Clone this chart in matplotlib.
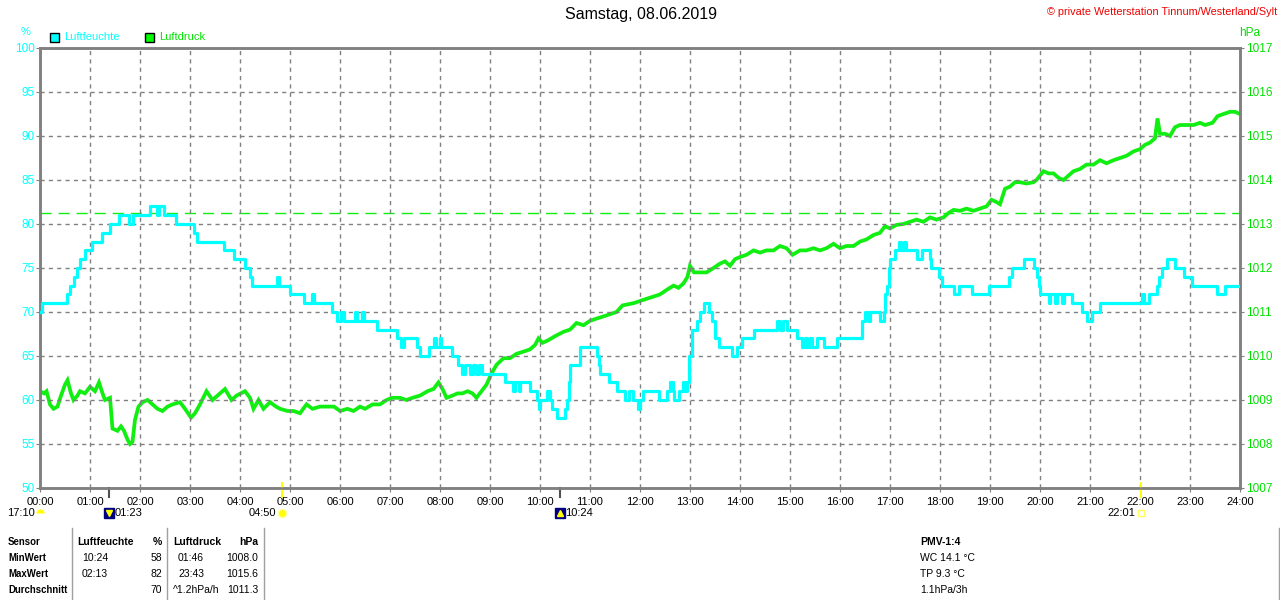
import matplotlib
matplotlib.use("Agg")
import matplotlib.pyplot as plt
from matplotlib.lines import Line2D
from matplotlib.patches import Rectangle

plt.rcParams['font.family'] = ['Liberation Sans', 'DejaVu Sans']

# ---- values ----
hours = list(range(25))
hour_labels = [f"{h:02d}:00" for h in hours]

# humidity in %, step changes (hour of day, value)
hum_t = [0.0, 0.03, 0.53, 0.6, 0.67, 0.73, 0.8, 0.9, 1.03, 1.23, 1.4, 1.57, 1.78, 1.85,
         2.2, 2.33, 2.38, 2.47, 2.72, 3.08, 3.13, 3.67, 3.87, 4.1, 4.2, 4.23, 4.73, 4.77,
         5.0, 5.27, 5.43, 5.47, 5.83, 5.93, 6.02, 6.08, 6.3, 6.33, 6.43, 6.47, 6.73,
         7.13, 7.22, 7.27, 7.53, 7.6, 7.77, 7.88, 7.92, 8.0, 8.03, 8.23, 8.37, 8.45, 8.5,
         8.6, 8.65, 8.72, 8.78, 8.83, 9.3, 9.45, 9.5, 9.57, 9.6, 9.8, 9.93, 9.97, 10.0,
         10.13, 10.2, 10.23, 10.33, 10.5, 10.53, 10.57, 10.6, 10.8, 11.13, 11.17, 11.2,
         11.37, 11.53, 11.7, 11.77, 11.85, 11.95, 12.0, 12.05, 12.37, 12.53, 12.6, 12.65,
         12.67, 12.77, 12.85, 12.9, 12.93, 12.97, 13.03, 13.13, 13.2, 13.27, 13.37, 13.43,
         13.5, 13.57, 13.83, 13.93, 14.03, 14.27, 14.73, 14.8, 14.85, 14.93, 15.13, 15.23,
         15.3, 15.33, 15.4, 15.43, 15.53, 15.67, 15.93, 16.43, 16.5, 16.55, 16.6, 16.8,
         16.87, 16.9, 16.93, 16.97, 17.0, 17.1, 17.17, 17.22, 17.27, 17.33, 17.53, 17.63,
         17.8, 17.83, 17.97, 18.03, 18.27, 18.37, 18.63, 18.97, 19.37, 19.43, 19.67, 19.87,
         19.93, 19.97, 20.0, 20.17, 20.2, 20.3, 20.33, 20.43, 20.47, 20.63, 20.83, 20.93,
         21.03, 21.2, 22.03, 22.07, 22.17, 22.33, 22.38, 22.43, 22.53, 22.7, 22.87, 23.03,
         23.53, 23.7, 24.0]
hum_v = [70, 71, 72, 73, 74, 75, 76, 77, 78, 79, 80, 81, 80, 81,
         82, 81, 82, 81, 80, 79, 78, 77, 76, 75, 74, 73, 74, 73,
         72, 71, 72, 71, 70, 69, 70, 69, 70, 69, 70, 69, 68,
         67, 66, 67, 66, 65, 66, 67, 66, 67, 66, 65, 64, 63, 64,
         63, 64, 63, 64, 63, 62, 61, 62, 61, 62, 61, 60, 59, 60,
         61, 60, 59, 58, 59, 60, 62, 64, 66, 65, 64, 63,
         62, 61, 60, 61, 60, 59, 60, 61, 60, 61, 62, 61,
         60, 61, 62, 61, 62, 65, 68, 69, 70, 71, 70, 69,
         67, 66, 65, 66, 67, 68, 69, 68, 69, 68, 67, 66,
         67, 66, 67, 66, 67, 66, 67, 69, 70, 69, 70, 69,
         70, 72, 73, 75, 76, 77, 78, 77, 78, 77, 76, 77,
         76, 75, 74, 73, 72, 73, 72, 73, 74, 75, 76, 75,
         74, 73, 72, 71, 72, 71, 72, 71, 72, 71, 70, 69,
         70, 71, 72, 71, 72, 73, 74, 75, 76, 75, 74, 73,
         72, 73, 73]

# air pressure in hPa (hour of day, value)
pres_t = [0.0, 0.08, 0.13, 0.2, 0.27, 0.35, 0.42, 0.5, 0.55, 0.62, 0.67, 0.75, 0.8, 0.9,
          1.0, 1.1, 1.18, 1.25, 1.3, 1.4, 1.45, 1.55, 1.62, 1.68, 1.75, 1.8, 1.85, 1.9,
          1.97, 2.05, 2.15, 2.25, 2.35, 2.45, 2.55, 2.65, 2.8, 2.9, 3.02, 3.1, 3.2, 3.33,
          3.45, 3.55, 3.7, 3.83, 3.93, 4.1, 4.2, 4.27, 4.37, 4.47, 4.6, 4.72, 4.8, 4.95,
          5.07, 5.2, 5.33, 5.45, 5.6, 5.75, 5.88, 6.0, 6.15, 6.27, 6.4, 6.5, 6.65, 6.8,
          6.93, 7.05, 7.2, 7.33, 7.45, 7.6, 7.75, 7.87, 7.97, 8.05, 8.13, 8.25, 8.35, 8.45,
          8.55, 8.65, 8.73, 8.83, 8.93, 9.03, 9.13, 9.27, 9.4, 9.53, 9.67, 9.8, 9.9, 9.97,
          10.05, 10.15, 10.3, 10.47, 10.6, 10.73, 10.87, 11.0, 11.13, 11.27, 11.4, 11.53,
          11.65, 11.87, 12.0, 12.13, 12.27, 12.4, 12.53, 12.67, 12.77, 12.87, 12.95, 13.0,
          13.08, 13.2, 13.33, 13.47, 13.6, 13.7, 13.8, 13.9, 14.0, 14.13, 14.27, 14.4,
          14.53, 14.67, 14.8, 14.93, 15.05, 15.2, 15.33, 15.47, 15.6, 15.73, 15.87, 16.0,
          16.13, 16.27, 16.4, 16.53, 16.67, 16.8, 16.9, 17.0, 17.13, 17.27, 17.4, 17.53,
          17.67, 17.8, 17.93, 18.07, 18.17, 18.27, 18.4, 18.53, 18.67, 18.8, 18.93, 19.03,
          19.13, 19.2, 19.3, 19.4, 19.5, 19.6, 19.73, 19.87, 19.93, 20.07, 20.17, 20.27,
          20.37, 20.47, 20.57, 20.67, 20.8, 20.93, 21.07, 21.2, 21.33, 21.47, 21.6, 21.73,
          21.87, 22.0, 22.1, 22.2, 22.3, 22.35, 22.4, 22.5, 22.6, 22.7, 22.8, 22.93, 23.07,
          23.2, 23.3, 23.45, 23.55, 23.67, 23.8, 23.9, 24.0]
pres_v = [1009.2, 1009.15, 1009.2, 1008.9, 1008.8, 1008.85, 1009.1, 1009.35, 1009.45,
          1009.15, 1009.0, 1009.1, 1009.2, 1009.15, 1009.3, 1009.2, 1009.4, 1009.15, 1009.0,
          1009.05, 1008.35, 1008.3, 1008.4, 1008.3, 1008.1, 1008.0, 1008.05, 1008.55,
          1008.85, 1008.95, 1009.0, 1008.9, 1008.8, 1008.75, 1008.85, 1008.9, 1008.95,
          1008.8, 1008.6, 1008.7, 1008.9, 1009.2, 1009.0, 1009.1, 1009.25, 1009.0, 1009.1,
          1009.2, 1009.05, 1008.8, 1009.0, 1008.8, 1008.95, 1008.85, 1008.8, 1008.75,
          1008.75, 1008.7, 1008.9, 1008.8, 1008.85, 1008.85, 1008.85, 1008.75, 1008.8,
          1008.75, 1008.85, 1008.8, 1008.9, 1008.9, 1009.0, 1009.05, 1009.05, 1009.0,
          1009.05, 1009.1, 1009.2, 1009.25, 1009.4, 1009.25, 1009.05, 1009.1, 1009.15,
          1009.15, 1009.2, 1009.15, 1009.05, 1009.2, 1009.35, 1009.6, 1009.8, 1009.95,
          1009.95, 1010.05, 1010.1, 1010.15, 1010.25, 1010.4, 1010.3, 1010.35, 1010.45,
          1010.55, 1010.6, 1010.75, 1010.7, 1010.8, 1010.85, 1010.9, 1010.95, 1011.0,
          1011.15, 1011.2, 1011.25, 1011.3, 1011.35, 1011.4, 1011.5, 1011.6, 1011.55,
          1011.65, 1011.8, 1012.05, 1011.9, 1011.9, 1011.9, 1012.0, 1012.1, 1012.15,
          1012.05, 1012.2, 1012.25, 1012.3, 1012.4, 1012.35, 1012.4, 1012.4, 1012.5,
          1012.45, 1012.3, 1012.4, 1012.4, 1012.45, 1012.4, 1012.45, 1012.55, 1012.45,
          1012.5, 1012.5, 1012.6, 1012.65, 1012.75, 1012.8, 1012.95, 1012.9, 1012.98,
          1013.0, 1013.05, 1013.1, 1013.05, 1013.15, 1013.1, 1013.15, 1013.25, 1013.32,
          1013.3, 1013.35, 1013.3, 1013.35, 1013.4, 1013.55, 1013.5, 1013.45, 1013.8,
          1013.85, 1013.95, 1013.95, 1013.92, 1013.95, 1014.0, 1014.2, 1014.15, 1014.15,
          1014.05, 1014.0, 1014.1, 1014.2, 1014.25, 1014.35, 1014.35, 1014.45, 1014.38,
          1014.45, 1014.5, 1014.55, 1014.65, 1014.7, 1014.8, 1014.85, 1014.95, 1015.4,
          1015.05, 1015.05, 1015.0, 1015.2, 1015.25, 1015.25, 1015.25, 1015.3, 1015.25,
          1015.3, 1015.45, 1015.5, 1015.55, 1015.55, 1015.5]

hum_ticks = list(range(50, 101, 5))
pres_ticks = list(range(1007, 1018))
ref_pressure = 1013.25

# moon / sun events
moon_times = [1 + 23 / 60, 10 + 24 / 60]
moon_labels = ["01:23", "10:24"]
moon_arrows = ["v", "^"]
sun_times = [4 + 50 / 60, 22 + 1 / 60]
sun_labels = ["04:50", "22:01"]
first_label = "17:10"

# statistics table
row_names = ["MinWert", "MaxWert", "Durchschnitt"]
hum_time = ["10:24", "02:13", ""]
hum_vals = ["58", "82", "70"]
pres_time = ["01:46", "23:43", "^1.2hPa/h"]
pres_vals = ["1008.0", "1015.6", "1011.3"]
extra_lines = ["WC 14.1 °C", "TP 9.3 °C", "1.1hPa/3h"]

CYAN = '#00FFFF'
GREEN = '#11EE11'
GREEN_TXT = '#00E000'
GRAY = '#808080'

W, H = 1280, 600
L, R, T, B = 40, 1240, 48, 488


def fx(x):
    return x / W


def fy(y):
    return 1 - y / H


def ay(y):
    # pixel row -> axes fraction
    return (B - y) / (B - T)


fig = plt.figure(figsize=(12.8, 6), dpi=100)
ax = fig.add_axes([fx(L), fy(B), (R - L) / W, (B - T) / H])
ax2 = ax.twinx()

ax.set_xlim(0, 24)
ax.set_ylim(50, 100)
ax2.set_ylim(1007, 1017)

ax.set_xticks(hours)
ax.set_xticklabels(hour_labels)
ax.set_yticks(hum_ticks)
ax2.set_yticks(pres_ticks)

ax.grid(True, color=GRAY, linestyle=(0, (3, 3)), linewidth=1)

for a in (ax, ax2):
    for s in a.spines.values():
        s.set_color(GRAY)
        s.set_linewidth(1.8)

ax.tick_params(axis='x', color=GRAY, labelcolor='black', length=3, pad=3.5, labelsize=8)
ax.tick_params(axis='y', color=GRAY, labelcolor=CYAN, length=3, pad=1, labelsize=8.5)
ax2.tick_params(axis='y', color=GRAY, labelcolor=GREEN_TXT, length=3, pad=1, labelsize=8.5)

ax2.axhline(ref_pressure, color=GREEN, linewidth=1, linestyle=(0, (8, 5)))
ax2.plot(pres_t, pres_v, color=GREEN, linewidth=2.7, solid_joinstyle='miter')
ax.plot(hum_t, hum_v, color=CYAN, linewidth=2.3, drawstyle='steps-post', zorder=5)
ax.set_zorder(ax2.get_zorder() + 1)
ax.patch.set_visible(False)

# event markers below the time axis
trans = ax.get_xaxis_transform()
ev_y = ay(513)
for t, lab, arr in zip(moon_times, moon_labels, moon_arrows):
    ax.plot([t, t], [0, ay(497)], transform=trans, clip_on=False, color='#505050', lw=1.5)
    ax.plot([t], [ev_y], transform=trans, clip_on=False, marker='s', ms=7,
            color='#000080', mec='#000080')
    ax.plot([t], [ev_y], transform=trans, clip_on=False, marker=arr, ms=4,
            color='#FFFF00', mec='#FFFF00')
    ax.annotate(lab, (t, ev_y), xycoords=trans, xytext=(4, 0), textcoords='offset points',
                ha='left', va='center', fontsize=8, annotation_clip=False)
for i, (t, lab) in enumerate(zip(sun_times, sun_labels)):
    ax.plot([t, t], [ay(483), ay(497)], transform=trans, clip_on=False, color='#FFFF00', lw=1.5)
    if i == 0:
        ax.plot([t], [ev_y], transform=trans, clip_on=False, marker='o', ms=6,
                color='#FFFF00', mec='#FFFFAA')
    else:
        ax.plot([t], [ev_y], transform=trans, clip_on=False, marker='s', ms=5,
                mfc='none', mec='#FFFF60', mew=1)
    ax.annotate(lab, (t, ev_y), xycoords=trans, xytext=(-4, 0), textcoords='offset points',
                ha='right', va='center', fontsize=8, annotation_clip=False)
ax.plot([0], [ev_y], transform=trans, clip_on=False, marker='o', ms=6,
        fillstyle='top', color='#FFFF00', mec='none', markerfacecoloralt='none')
ax.annotate(first_label, (0, ev_y), xycoords=trans, xytext=(-4, 0), textcoords='offset points',
            ha='right', va='center', fontsize=8, annotation_clip=False)

# header texts
fig.text(fx(641), fy(15), "Samstag, 08.06.2019", ha='center', va='center', fontsize=11.5)
fig.text(fx(1277), fy(12), "© private Wetterstation Tinnum/Westerland/Sylt", ha='right',
         va='center', fontsize=7.8, color='#EE0000')
fig.text(fx(26), fy(32), "%", ha='center', va='center', fontsize=8, color=CYAN)
fig.text(fx(1250), fy(33), "hPa", ha='center', va='center', fontsize=8.5, color=GREEN_TXT)
for x0, col, txtcol, name in [(50, CYAN, CYAN, "Luftfeuchte"), (145, '#00FF00', GREEN_TXT, "Luftdruck")]:
    fig.add_artist(Rectangle((fx(x0), fy(42)), 9 / W, 9 / H, transform=fig.transFigure,
                             facecolor=col, edgecolor='black', lw=1))
    fig.text(fx(x0 + 14), fy(37.5), name, ha='left', va='center', fontsize=8, color=txtcol)

# statistics table
fs = 7.5
fig.text(fx(8), fy(542), "Sensor", fontsize=6.9, weight='bold', va='center')
fig.text(fx(77), fy(542), "Luftfeuchte", fontsize=fs, weight='bold', va='center')
fig.text(fx(162), fy(542), "%", fontsize=fs, weight='bold', va='center', ha='right')
fig.text(fx(173), fy(542), "Luftdruck", fontsize=fs, weight='bold', va='center')
fig.text(fx(258), fy(542), "hPa", fontsize=fs, weight='bold', va='center', ha='right')
for i, yy in enumerate([558, 574, 590]):
    fig.text(fx(8), fy(yy), row_names[i], fontsize=6.9, weight='bold', va='center')
    fig.text(fx(82), fy(yy), hum_time[i], fontsize=fs, va='center')
    fig.text(fx(162), fy(yy), hum_vals[i], fontsize=fs, va='center', ha='right')
    px = 173 if pres_time[i].startswith('^') else 178
    fig.text(fx(px), fy(yy), pres_time[i], fontsize=fs, va='center')
    fig.text(fx(258), fy(yy), pres_vals[i], fontsize=fs, va='center', ha='right')
    fig.text(fx(920), fy(yy), extra_lines[i], fontsize=fs, va='center')
fig.text(fx(920), fy(542), "PMV-1:4", fontsize=fs, weight='bold', va='center')

for xs in (72, 167, 264, 1279):
    fig.add_artist(Line2D([fx(xs), fx(xs)], [fy(528), fy(600)], transform=fig.transFigure,
                          color='#A0A0A0', lw=1))

fig.savefig("out.png", dpi=100)
